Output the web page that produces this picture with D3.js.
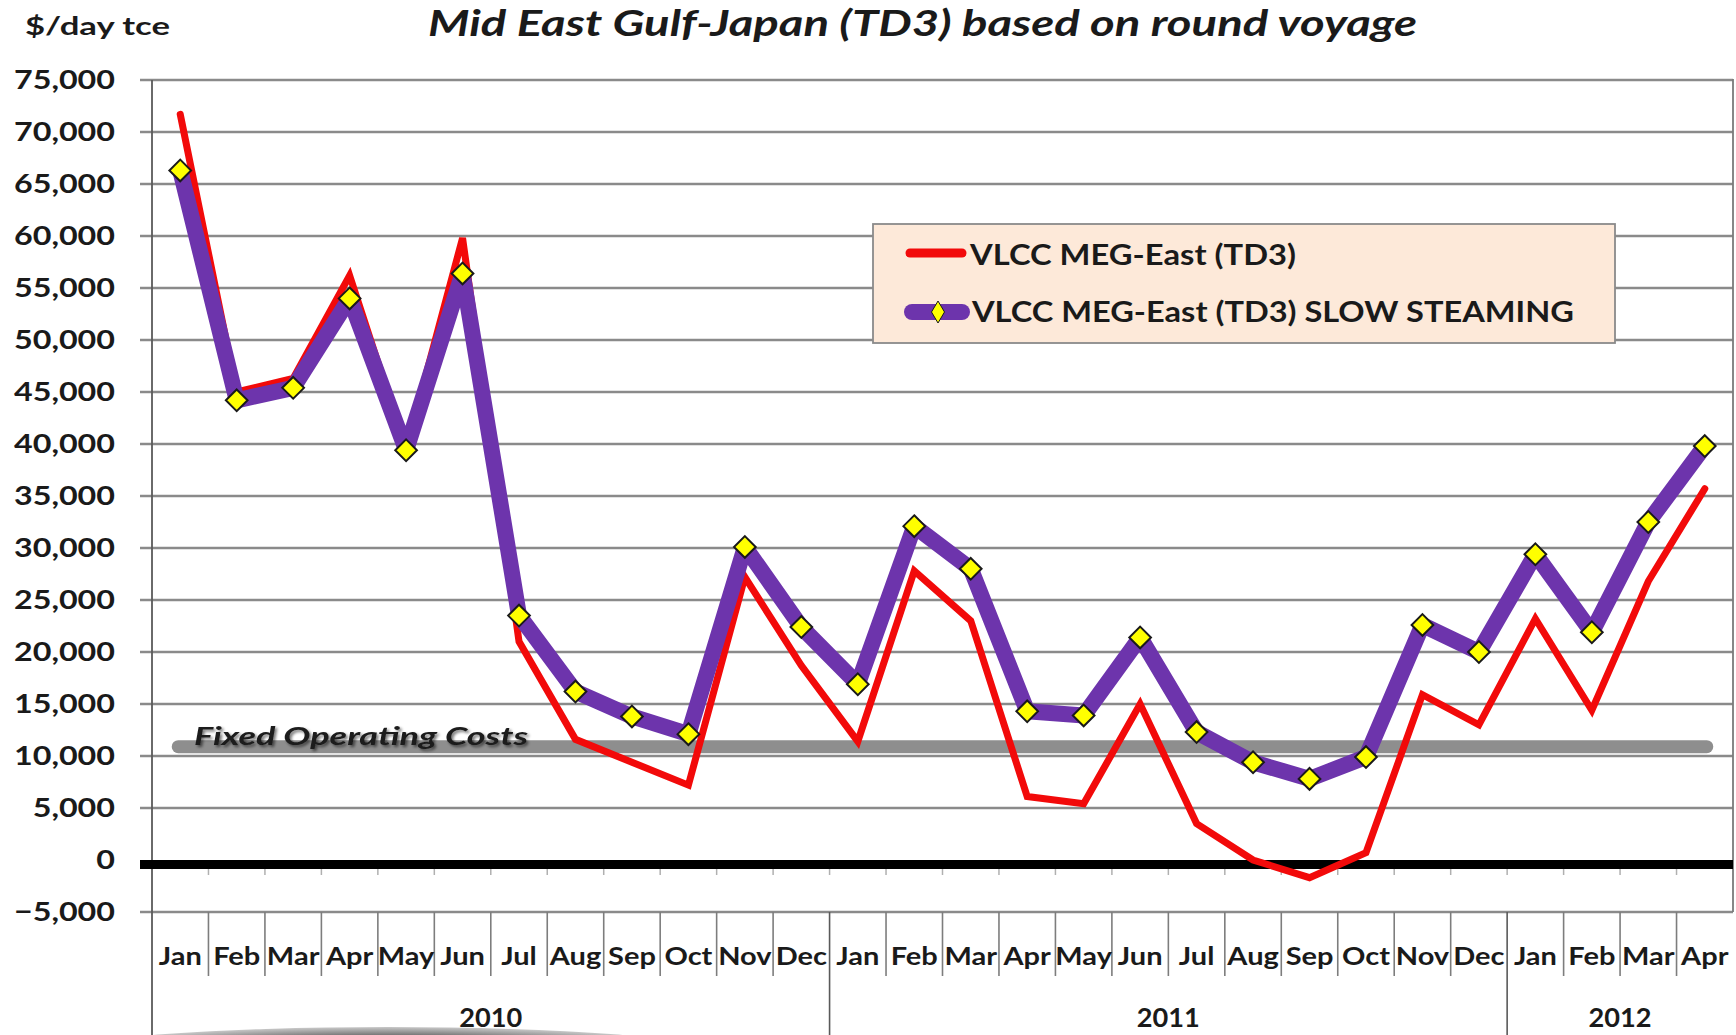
<!DOCTYPE html>
<html>
<head>
<meta charset="utf-8">
<script src="https://cdn.jsdelivr.net/npm/d3@7"></script>
<style>
  html, body { margin: 0; padding: 0; background: #ffffff; }
  svg { display: block; }
  text { font-family: Lato, "Open Sans", "DejaVu Sans", sans-serif; font-weight: bold; fill: #1a1a1a; }
</style>
</head>
<body>
<svg id="chart" width="1736" height="1035"></svg>
<script>
// ---------- data ----------
const months = ["Jan","Feb","Mar","Apr","May","Jun","Jul","Aug","Sep","Oct","Nov","Dec",
                "Jan","Feb","Mar","Apr","May","Jun","Jul","Aug","Sep","Oct","Nov","Dec",
                "Jan","Feb","Mar","Apr"];
const yearLabels = ["2010", "2011", "2012"];
const yearMonthCounts = [12, 12, 4];
const seriesNames = ["VLCC MEG-East (TD3)", "VLCC MEG-East (TD3) SLOW STEAMING"];
const vlccTD3 = [71700, 45000, 46300, 56200, 39500, 59800, 21000, 11600, 9400, 7200, 27200, 18700,
                 11400, 27800, 23000, 6100, 5400, 15000, 3500, 0, -1700, 700, 15900, 13000,
                 23200, 14400, 26800, 35700];
const vlccSlow = [66300, 44200, 45400, 54000, 39400, 56400, 23500, 16200, 13800, 12100, 30100, 22400,
                  16900, 32100, 28000, 14300, 13900, 21400, 12300, 9400, 7800, 9900, 22600, 20000,
                  29400, 21900, 32500, 39800];
const fixedOperatingCost = 10900;
const fixedLabel = "Fixed Operating Costs";
const yTicks = d3.range(-5000, 75001, 5000);
const titleText = "Mid East Gulf-Japan (TD3) based on round voyage";
const yTitle = "$/day tce";

// ---------- layout ----------
const L = 152, R = 1733, T = 80, B = 912;
const svg = d3.select("#chart");
const x = d3.scaleBand().domain(d3.range(months.length)).range([L, R]).padding(0);
const cx = i => x(i) + x.bandwidth() / 2;
const y = d3.scaleLinear().domain([-5000, 75000]).range([B, T]);

const RED = "#f20a0a", PURPLE = "#6d34ac", GRID = "#8a8a8a";

function fitGroup(sel, sampleIndex, targetW) {
  const nodes = sel.nodes();
  const k = targetW / nodes[sampleIndex].getComputedTextLength();
  nodes.forEach(n => {
    const w = n.getComputedTextLength();
    n.setAttribute("textLength", (w * k).toFixed(1));
    n.setAttribute("lengthAdjust", "spacingAndGlyphs");
  });
}
function fitOne(sel, w) {
  sel.attr("textLength", w).attr("lengthAdjust", "spacingAndGlyphs");
}

// defs
const defs = svg.append("defs");
const rg = defs.append("radialGradient").attr("id", "arcGrad");
rg.append("stop").attr("offset", "0%").attr("stop-color", "#5a5a5a");
rg.append("stop").attr("offset", "70%").attr("stop-color", "#7c7c7c");
rg.append("stop").attr("offset", "100%").attr("stop-color", "#c8c8c8");
const sh = defs.append("filter").attr("id", "txtShadow").attr("x", "-5%").attr("y", "-30%").attr("width", "110%").attr("height", "160%");
sh.append("feGaussianBlur").attr("in", "SourceAlpha").attr("stdDeviation", 1.6).attr("result", "b");
sh.append("feOffset").attr("in", "b").attr("dx", 1.5).attr("dy", 1.5).attr("result", "o");
sh.append("feComponentTransfer").attr("in", "o").attr("result", "o2")
  .append("feFuncA").attr("type", "linear").attr("slope", 0.55);
const mg = sh.append("feMerge");
mg.append("feMergeNode").attr("in", "o2");
mg.append("feMergeNode").attr("in", "SourceGraphic");

// decorative shadow arc at bottom
svg.append("ellipse").attr("cx", 388).attr("cy", 1052).attr("rx", 320).attr("ry", 25)
  .attr("fill", "url(#arcGrad)");

// ---------- gridlines ----------
svg.append("g").selectAll("line").data(yTicks.filter(v => v !== 0)).join("line")
  .attr("x1", L - 12).attr("x2", R)
  .attr("y1", d => y(d)).attr("y2", d => y(d))
  .attr("stroke", GRID).attr("stroke-width", 2.4);

// y axis labels
const yAxis = d3.axisLeft(y).tickValues(yTicks).tickFormat(d3.format(",")).tickSize(0).tickPadding(37);
const yg = svg.append("g").attr("transform", `translate(${L},0)`).call(yAxis);
yg.select(".domain").remove();
yg.selectAll("text").attr("font-size", 26).attr("fill", "#1a1a1a")
  .attr("font-family", "Lato, sans-serif").attr("font-weight", "bold");
fitGroup(yg.selectAll("text"), yTicks.indexOf(75000), 101);

// frame: y axis line + right border
svg.append("line").attr("x1", L).attr("x2", L).attr("y1", T).attr("y2", 1035)
  .attr("stroke", "#5a5a5a").attr("stroke-width", 1.8);
svg.append("line").attr("x1", R).attr("x2", R).attr("y1", T - 1).attr("y2", B)
  .attr("stroke", "#7a7a7a").attr("stroke-width", 1.8);

// category separators in label area
const yearStarts = [0];
yearMonthCounts.forEach((c, i) => yearStarts.push(yearStarts[i] + c));
svg.append("g").selectAll("line").data(d3.range(1, months.length)).join("line")
  .attr("x1", d => x(d)).attr("x2", d => x(d))
  .attr("y1", B).attr("y2", d => yearStarts.includes(d) ? 1035 : 976)
  .attr("stroke", d => yearStarts.includes(d) ? "#5a5a5a" : "#7d7d7d").attr("stroke-width", 1.6);

// minor ticks under zero line
svg.append("g").selectAll("line").data(d3.range(1, months.length)).join("line")
  .attr("x1", d => x(d)).attr("x2", d => x(d))
  .attr("y1", y(0) + 8).attr("y2", y(0) + 15)
  .attr("stroke", "#b0b0b0").attr("stroke-width", 1.5);

// month labels
const xAxis = d3.axisBottom(x).tickFormat(i => months[i]).tickSize(0).tickPadding(0);
const xg = svg.append("g").attr("transform", `translate(0,${B})`).call(xAxis);
xg.select(".domain").remove();
xg.selectAll("text").attr("y", 53).attr("dy", 0).attr("font-size", 25).attr("fill", "#1a1a1a")
  .attr("font-family", "Lato, sans-serif").attr("font-weight", "bold");
fitGroup(xg.selectAll("text"), 0, 43);

// year labels
const yearSel = svg.append("g").selectAll("text").data(yearLabels).join("text")
  .attr("x", (d, i) => (x(yearStarts[i]) + (yearStarts[i + 1] < months.length ? x(yearStarts[i + 1]) : R)) / 2)
  .attr("y", 1027).attr("text-anchor", "middle").attr("font-size", 27)
  .text(d => d);
fitGroup(yearSel, 2, 63);

// zero line
svg.append("line").attr("x1", L - 12).attr("x2", R).attr("y1", y(0) + 4.5).attr("y2", y(0) + 4.5)
  .attr("stroke", "#000").attr("stroke-width", 9);

// fixed operating costs band
svg.append("line")
  .attr("x1", cx(0) - 2).attr("x2", cx(months.length - 1) + 2)
  .attr("y1", y(fixedOperatingCost)).attr("y2", y(fixedOperatingCost))
  .attr("stroke", "#8e8e8e").attr("stroke-width", 13).attr("stroke-linecap", "round");
const fl = svg.append("text").attr("x", 194).attr("y", 745)
  .attr("font-size", 25).attr("font-style", "italic").attr("fill", "#222")
  .attr("filter", "url(#txtShadow)").text(fixedLabel);
fitOne(fl, 334);

// series lines
const line = d3.line().x((d, i) => cx(i)).y(d => y(d));
svg.append("path").datum(vlccTD3).attr("d", line)
  .attr("fill", "none").attr("stroke", RED).attr("stroke-width", 7)
  .attr("stroke-linejoin", "miter").attr("stroke-linecap", "round");
svg.append("path").datum(vlccSlow).attr("d", line)
  .attr("fill", "none").attr("stroke", PURPLE).attr("stroke-width", 16)
  .attr("stroke-linejoin", "round").attr("stroke-linecap", "round");

// diamonds
const diamond = d3.symbol().type(d3.symbolDiamond2).size(300);
svg.append("g").selectAll("path").data(vlccSlow).join("path")
  .attr("transform", (d, i) => `translate(${cx(i)},${y(d)})`)
  .attr("d", diamond)
  .attr("fill", "#ffff00").attr("stroke", "#1a1a1a").attr("stroke-width", 2);

// ---------- legend ----------
const lg = svg.append("g");
lg.append("rect").attr("x", 873).attr("y", 224).attr("width", 742).attr("height", 119)
  .attr("fill", "#fde9d9").attr("stroke", "#8a8a8a").attr("stroke-width", 1.8);
lg.append("line").attr("x1", 910).attr("x2", 962).attr("y1", 253).attr("y2", 253)
  .attr("stroke", RED).attr("stroke-width", 9).attr("stroke-linecap", "round");
lg.append("line").attr("x1", 912).attr("x2", 962).attr("y1", 312).attr("y2", 312)
  .attr("stroke", PURPLE).attr("stroke-width", 16).attr("stroke-linecap", "round");
lg.append("path").attr("d", "M938,301 L944.5,312 L938,323 L931.5,312 Z")
  .attr("fill", "#ffff00").attr("stroke", "#1a1a1a").attr("stroke-width", 1);
const lt1 = lg.append("text").attr("x", 970).attr("y", 265).attr("font-size", 28).text(seriesNames[0]);
fitOne(lt1, 326);
const lt2 = lg.append("text").attr("x", 972).attr("y", 322).attr("font-size", 28).text(seriesNames[1]);
fitOne(lt2, 602);

// ---------- titles ----------
const tt = svg.append("text").attr("x", 922.5).attr("y", 36).attr("text-anchor", "middle")
  .attr("font-size", 36.5).attr("font-style", "italic").text(titleText);
fitOne(tt, 989);
const yt = svg.append("text").attr("x", 25).attr("y", 35).attr("font-size", 25).text(yTitle);
fitOne(yt, 145);
</script>
</body>
</html>
